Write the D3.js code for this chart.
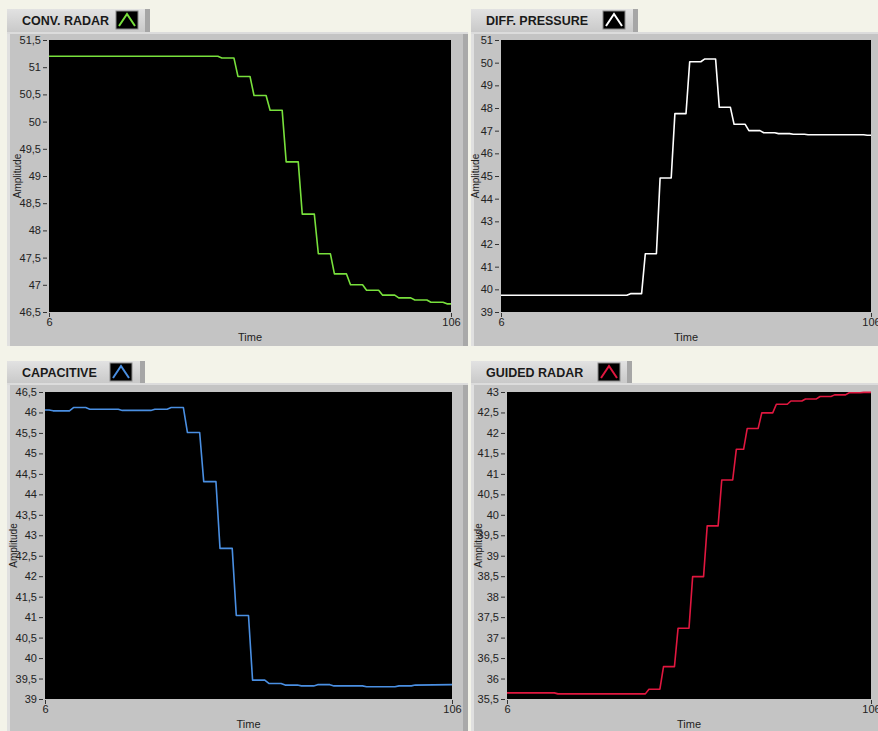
<!DOCTYPE html>
<html>
<head>
<meta charset="utf-8">
<script src="https://cdn.jsdelivr.net/npm/d3@7"></script>
<style>
html, body { margin: 0; padding: 0; background: #f3f3e9; }
svg { display: block; }
</style>
</head>
<body>
<svg id="chart"></svg>
<script>
// trace corners: time / amplitude
var convTime = [6, 48, 49, 52, 53, 56, 57, 60, 61, 64, 65, 68, 69, 72, 73, 76, 77, 80, 81, 84, 85, 88, 89, 92, 93, 96, 97, 100, 101, 104, 105, 106];
var convAmp  = [51.2, 51.2, 51.17, 51.17, 50.83, 50.83, 50.48, 50.48, 50.21, 50.21, 49.26, 49.26, 48.3, 48.3, 47.57, 47.57, 47.2, 47.2, 47.0, 47.0, 46.9, 46.9, 46.81, 46.81, 46.76, 46.76, 46.72, 46.72, 46.68, 46.68, 46.65, 46.65];

var diffTime = [6, 40, 41, 44, 45, 48, 49, 52, 53, 56, 57, 60, 61, 64, 65, 68, 69, 72, 73, 76, 77, 80, 81, 84, 85, 88, 89, 104, 105, 106];
var diffAmp  = [39.74, 39.74, 39.81, 39.81, 41.57, 41.57, 44.91, 44.91, 47.75, 47.75, 50.04, 50.04, 50.16, 50.16, 48.03, 48.03, 47.28, 47.28, 47.0, 47.0, 46.91, 46.91, 46.87, 46.87, 46.84, 46.84, 46.82, 46.82, 46.8, 46.8];

var capTime = [6, 7, 8, 12, 13, 16, 17, 24, 25, 32, 33, 36, 37, 40, 41, 44, 45, 48, 49, 52, 53, 56, 57, 60, 61, 64, 65, 68, 69, 72, 73, 76, 77, 84, 85, 92, 93, 96, 97, 106];
var capAmp  = [46.06, 46.06, 46.04, 46.04, 46.12, 46.12, 46.08, 46.08, 46.05, 46.05, 46.08, 46.08, 46.12, 46.12, 45.51, 45.51, 44.31, 44.31, 42.68, 42.68, 41.04, 41.04, 39.46, 39.46, 39.38, 39.38, 39.34, 39.34, 39.32, 39.32, 39.35, 39.35, 39.32, 39.32, 39.3, 39.3, 39.32, 39.32, 39.34, 39.35];

var guidedTime = [6, 19, 20, 44, 45, 48, 49, 52, 53, 56, 57, 60, 61, 64, 65, 68, 69, 71, 72, 75, 76, 79, 80, 83, 84, 87, 88, 91, 92, 95, 96, 99, 100, 103, 104, 106];
var guidedAmp  = [35.65, 35.65, 35.625, 35.625, 35.74, 35.74, 36.29, 36.29, 37.23, 37.23, 38.49, 38.49, 39.73, 39.73, 40.85, 40.85, 41.6, 41.6, 42.11, 42.11, 42.49, 42.49, 42.7, 42.7, 42.78, 42.78, 42.83, 42.83, 42.89, 42.89, 42.93, 42.93, 42.98, 42.98, 42.99, 42.99];

// axis ticks
var convTicks = [46.5, 47, 47.5, 48, 48.5, 49, 49.5, 50, 50.5, 51, 51.5];
var diffTicks = [39, 40, 41, 42, 43, 44, 45, 46, 47, 48, 49, 50, 51];
var capTicks = [39, 39.5, 40, 40.5, 41, 41.5, 42, 42.5, 43, 43.5, 44, 44.5, 45, 45.5, 46, 46.5];
var guidedTicks = [35.5, 36, 36.5, 37, 37.5, 38, 38.5, 39, 39.5, 40, 40.5, 41, 41.5, 42, 42.5, 43];
var timeTicks = [6, 106];

var titles = ['CONV. RADAR', 'DIFF. PRESSURE', 'CAPACITIVE', 'GUIDED RADAR'];
var traceColors = ['#78e03c', '#ffffff', '#4a8fe2', '#e0173f'];

var width = 878;
var height = 731;

var svg = d3.select('#chart')
    .attr('width', width)
    .attr('height', height);

// comma as decimal separator, like the original
var locale = d3.formatLocale({ decimal: ',', thousands: '.', grouping: [3], currency: ['', ''] });
var fmt = locale.format('~f');

var defs = svg.append('defs');
var tabGrad = defs.append('linearGradient')
    .attr('id', 'tabGrad')
    .attr('x1', 0).attr('y1', 0).attr('x2', 0).attr('y2', 1);
tabGrad.append('stop').attr('offset', '0%').attr('stop-color', '#e2e2e2');
tabGrad.append('stop').attr('offset', '100%').attr('stop-color', '#c9c9c9');

var font = '"Liberation Sans", Arial, sans-serif';

function drawPanel(p) {
    var g = svg.append('g');

    // grey body of the graph control
    g.append('rect')
        .attr('x', p.body[0]).attr('y', p.body[1])
        .attr('width', p.body[2]).attr('height', p.body[3])
        .attr('fill', '#c4c4c4');
    g.append('rect')
        .attr('x', p.body[0]).attr('y', p.body[1])
        .attr('width', 3).attr('height', p.body[3])
        .attr('fill', '#e0e0e0');
    g.append('rect')
        .attr('x', p.body[0] + p.body[2] - 5).attr('y', p.body[1])
        .attr('width', 5).attr('height', p.body[3])
        .attr('fill', '#a9a9a9');
    g.append('rect')
        .attr('x', p.body[0]).attr('y', p.body[1])
        .attr('width', p.body[2]).attr('height', 2)
        .attr('fill', '#dcdcdc');

    // label tab
    g.append('rect')
        .attr('x', p.tab[0]).attr('y', p.tab[1])
        .attr('width', p.tab[2]).attr('height', p.tab[3])
        .attr('fill', 'url(#tabGrad)');
    g.append('rect')
        .attr('x', p.tab[0] + p.tab[2] - 5).attr('y', p.tab[1])
        .attr('width', 5).attr('height', p.tab[3])
        .attr('fill', '#a6a6a6');
    g.append('text')
        .attr('x', p.tab[0] + 15).attr('y', p.tab[1] + 16)
        .attr('font-family', font)
        .attr('font-weight', 'bold')
        .attr('font-size', 12.5)
        .attr('fill', '#1a1a1a')
        .text(p.title);

    // plot legend icon
    var ix = p.icon, iy = p.tab[1] + 2, iw = 22, ih = 18;
    g.append('rect')
        .attr('x', ix).attr('y', iy).attr('width', iw).attr('height', ih)
        .attr('fill', '#000').attr('stroke', '#8a8a8a').attr('stroke-width', 1);
    g.append('polyline')
        .attr('points', [[ix + 3, iy + ih - 3], [ix + iw / 2, iy + 3], [ix + iw - 3, iy + ih - 3]].join(' '))
        .attr('fill', 'none')
        .attr('stroke', p.color)
        .attr('stroke-width', 2);

    var x = d3.scaleLinear().domain([6, 106]).range([p.plot[0], p.plot[2]]);
    var y = d3.scaleLinear().domain([p.ticks[0], p.ticks[p.ticks.length - 1]]).range([p.plot[3], p.plot[1]]);

    // black plot area
    g.append('rect')
        .attr('x', p.plot[0]).attr('y', p.plot[1])
        .attr('width', p.plot[2] - p.plot[0]).attr('height', p.plot[3] - p.plot[1])
        .attr('fill', '#000');

    // y axis
    var yAxis = d3.axisLeft(y)
        .tickValues(p.ticks)
        .tickFormat(fmt)
        .tickSize(4)
        .tickPadding(2);
    var ya = g.append('g')
        .attr('transform', 'translate(' + (p.plot[0] - 2) + ',0)')
        .call(yAxis);
    ya.select('.domain').remove();
    ya.selectAll('line').attr('stroke', '#333');
    ya.selectAll('text')
        .attr('font-family', font)
        .attr('font-size', 11)
        .attr('fill', '#222');

    // x axis
    var xAxis = d3.axisBottom(x)
        .tickValues(timeTicks)
        .tickFormat(fmt)
        .tickSize(4)
        .tickPadding(1);
    var xa = g.append('g')
        .attr('transform', 'translate(0,' + (p.plot[3] + 1) + ')')
        .call(xAxis);
    xa.select('.domain').remove();
    xa.selectAll('line').attr('stroke', '#333');
    xa.selectAll('text')
        .attr('font-family', font)
        .attr('font-size', 11)
        .attr('fill', '#222');

    // axis titles
    g.append('text')
        .attr('x', (p.plot[0] + p.plot[2]) / 2)
        .attr('y', p.plot[3] + 29)
        .attr('text-anchor', 'middle')
        .attr('font-family', font)
        .attr('font-size', 11)
        .attr('fill', '#222')
        .text('Time');
    g.append('text')
        .attr('transform', 'translate(' + p.ylab + ',' + ((p.plot[1] + p.plot[3]) / 2) + ') rotate(-90)')
        .attr('text-anchor', 'middle')
        .attr('dy', '0.35em')
        .attr('font-family', font)
        .attr('font-size', 10)
        .attr('fill', '#222')
        .text('Amplitude');

    // the trace
    var pts = p.time.map(function(t, i) { return [t, p.amp[i]]; });
    var line = d3.line()
        .x(function(d) { return x(d[0]); })
        .y(function(d) { return y(d[1]); });
    g.append('path')
        .datum(pts)
        .attr('d', line)
        .attr('fill', 'none')
        .attr('stroke', p.color)
        .attr('stroke-width', 1.6)
        .attr('stroke-linejoin', 'round');
}

drawPanel({ title: titles[0], color: traceColors[0], time: convTime, amp: convAmp, ticks: convTicks,
    tab: [7, 9, 143, 23], icon: 116, body: [7, 32, 461, 314], plot: [49, 40, 451, 312], ylab: 17 });
drawPanel({ title: titles[1], color: traceColors[1], time: diffTime, amp: diffAmp, ticks: diffTicks,
    tab: [471, 9, 167, 23], icon: 603, body: [471, 32, 420, 314], plot: [501, 40, 871, 312], ylab: 475 });
drawPanel({ title: titles[2], color: traceColors[2], time: capTime, amp: capAmp, ticks: capTicks,
    tab: [7, 361, 138, 22], icon: 110, body: [7, 383, 461, 360], plot: [45, 392, 452, 699], ylab: 13 });
drawPanel({ title: titles[3], color: traceColors[3], time: guidedTime, amp: guidedAmp, ticks: guidedTicks,
    tab: [471, 361, 161, 22], icon: 598, body: [471, 383, 420, 360], plot: [507, 392, 871, 699], ylab: 478 });
</script>
</body>
</html>
